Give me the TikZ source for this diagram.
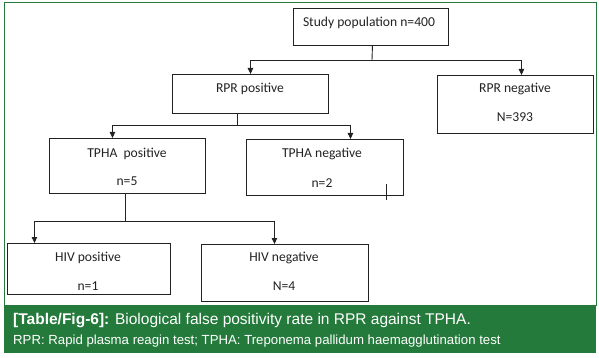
\documentclass[tikz,border=0pt]{standalone}
\usepackage{fontspec}
\setmainfont{Carlito}
\newfontfamily\capfont{Liberation Sans}
\usetikzlibrary{arrows.meta,calc}
\definecolor{figgreen}{HTML}{237A3B}
\definecolor{ink}{HTML}{222222}
\tikzset{
  box/.style={draw=ink, line width=0.9pt, anchor=north west, inner sep=0pt},
  lbl/.style={font=\fontsize{13.6}{15}\selectfont, text=ink, inner sep=0pt},
  conn/.style={draw=ink, line width=0.9pt},
  arr/.style={conn, -{Triangle[length=6pt,width=5.5pt]}},
  capA/.style={font=\capfont\fontsize{15.5}{17}\selectfont, text=white, anchor=west, inner sep=0pt},
  capB/.style={font=\capfont\fontsize{13.2}{15}\selectfont, text=white, anchor=west, inner sep=0pt},
}
\begin{document}
\begin{tikzpicture}[x=1pt,y=-1pt]
\useasboundingbox (0,0) rectangle (599,358);
% frame and caption band
\draw[figgreen, line width=1pt] (4,3) rectangle (596,305);
\fill[figgreen] (4,305) rectangle (596,353);
\node[capA] (cap1) at (13,321) {\textbf{[Table/Fig-6]:} Biological false positivity rate in RPR against TPHA.};
\node[capB] (cap2) at (13,341) {RPR: Rapid plasma reagin test; TPHA: Treponema pallidum haemagglutination test};
% boxes
\node[box, minimum width=155pt, minimum height=37pt] (sp) at (293,8) {};
\node[box, minimum width=156pt, minimum height=39pt] (rpp) at (172,74) {};
\node[box, minimum width=156pt, minimum height=58pt] (rpn) at (437,75) {};
\node[box, minimum width=156pt, minimum height=55pt] (tpp) at (49,138) {};
\node[box, minimum width=157pt, minimum height=56pt] (tpn) at (246,139) {};
\node[box, minimum width=163pt, minimum height=51pt] (hvp) at (7,243) {};
\node[box, minimum width=167pt, minimum height=57pt] (hvn) at (201,244) {};
% labels
\node[lbl] (t1) at (369,23) {Study population n=400};
\node[lbl] (t2) at (250,89) {RPR positive};
\node[lbl] (t3) at (515,89) {RPR negative};
\node[lbl] (t3b) at (515,117) {N=393};
\node[lbl] (t4) at (127,154) {TPHA\ \ positive};
\node[lbl] (t4b) at (127,181) {n=5};
\node[lbl] (t5) at (322,154) {TPHA negative};
\node[lbl] (t5b) at (322,183) {n=2};
\node[lbl] (t6) at (88,258) {HIV positive};
\node[lbl] (t6b) at (88,286) {n=1};
\node[lbl] (t7) at (284,258) {HIV negative};
\node[lbl] (t7b) at (284,286) {N=4};
% connectors
\coordinate (j1) at (372,60);
\coordinate (j2) at (237,125);
\coordinate (j3) at (125,221);
\draw[conn] ($(sp.south)+(1.5,0)$) -- (j1);
\draw[arr] (j1) -| (rpp.north);
\draw[arr] (j1) -| ($(rpn.north)+(6,0)$);
\draw[conn] (rpp.south -| j2) -- (j2);
\draw[arr] (j2) -| ($(tpp.north)+(-15,0)$);
\draw[arr] (j2) -| ($(tpn.north)+(25.5,0)$);
\draw[conn] (tpp.south -| j3) -- (j3);
\draw[arr] (j3) -| ($(hvp.north)+(-54.5,0)$);
\draw[arr] (j3) -| ($(hvn.north)+(-10.5,0)$);
% stray tick mark
\coordinate (k1) at (386,184);
\coordinate (k2) at (386,200);
\draw[conn, line width=0.7pt] (k1) -- (k2);
\end{tikzpicture}
\end{document}
